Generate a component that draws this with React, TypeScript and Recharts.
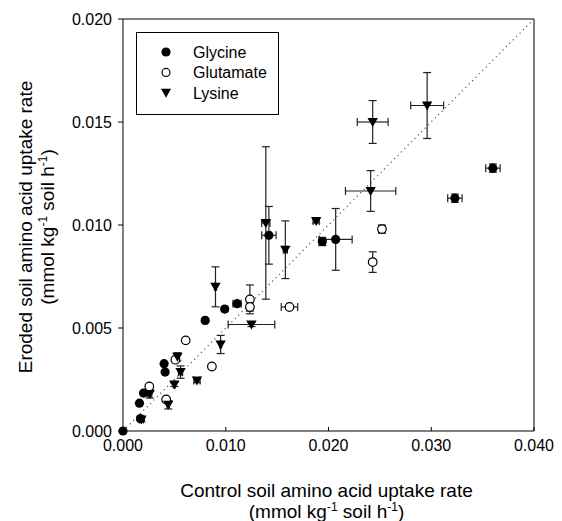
import React from 'react';
import {
  ScatterChart,
  Scatter,
  XAxis,
  YAxis,
  ErrorBar,
  ReferenceLine,
} from 'recharts';

const FONT = '"Liberation Sans", Arial, sans-serif';

// Glycine (filled circles): x, y, x error, y error
const glycineX = [0, 0.0017, 0.0016, 0.002, 0.004, 0.0041, 0.008, 0.0099, 0.0111, 0.0142, 0.0194, 0.0207, 0.0323, 0.036];
const glycineY = [0, 0.0006, 0.00135, 0.00184, 0.00327, 0.00286, 0.00537, 0.00592, 0.00618, 0.0095, 0.0092, 0.0093, 0.0113, 0.01276];
const glycineXErr = [0, 0.0001, 0, 0, 0, 0, 0.0002, 0.0002, 0.0004, 0.0007, 0.0003, 0.0016, 0.0007, 0.0007];
const glycineYErr = [0, 0.0001, 0, 0, 0, 0, 0.0001, 0.0001, 0.0001, 0.0014, 0.0002, 0.0015, 0.0002, 0.0002];

// Glutamate (open circles)
const glutamateX = [0.00256, 0.0042, 0.0051, 0.0061, 0.00865, 0.01235, 0.01235, 0.0162, 0.0243, 0.0252];
const glutamateY = [0.00216, 0.00153, 0.00346, 0.0044, 0.00313, 0.00639, 0.00602, 0.00602, 0.0082, 0.0098];
const glutamateXErr = [0, 0, 0, 0, 0, 0, 0, 0.0008, 0, 0.0003];
const glutamateYErr = [0, 0.0001, 0, 0, 0, 0.0007, 0.0002, 0, 0.0005, 0.0002];

// Lysine (filled down triangles)
const lysineX = [0.0018, 0.0026, 0.0044, 0.005, 0.0053, 0.0056, 0.0072, 0.0095, 0.009, 0.0125, 0.0139, 0.0158, 0.0188, 0.0241, 0.0243, 0.0296];
const lysineY = [0.00056, 0.0018, 0.00127, 0.00226, 0.0036, 0.00286, 0.00245, 0.0042, 0.007, 0.00517, 0.0101, 0.0088, 0.0102, 0.01165, 0.015, 0.0158];
const lysineXErr = [0.0002, 0.0002, 0.0001, 0.0001, 0.0002, 0.0002, 0.0003, 0.0001, 0.0001, 0.00227, 0.0004, 0.0002, 0.0003, 0.00245, 0.0015, 0.0016];
const lysineYErr = [0.0001, 0.0002, 0.0002, 0.0001, 0.0002, 0.0003, 0.0001, 0.00044, 0.00097, 0.0001, 0.0037, 0.0014, 0.0001, 0.00099, 0.00104, 0.0016];

const xTicks = [0, 0.01, 0.02, 0.03, 0.04];
const yTicks = [0, 0.005, 0.01, 0.015, 0.02];
const seriesNames = ['Glycine', 'Glutamate', 'Lysine'];

const build = (xs: number[], ys: number[], exs: number[], eys: number[]) =>
  xs.map((x, i) => ({ x, y: ys[i], ex: exs[i], ey: eys[i] }));

const glycine = build(glycineX, glycineY, glycineXErr, glycineYErr);
const glutamate = build(glutamateX, glutamateY, glutamateXErr, glutamateYErr);
const lysine = build(lysineX, lysineY, lysineXErr, lysineYErr);

const FilledCircle = (p: any) => <circle cx={p.cx} cy={p.cy} r={4.6} fill="#000" />;
const OpenCircle = (p: any) => (
  <circle cx={p.cx} cy={p.cy} r={4.3} fill="#fff" stroke="#000" strokeWidth={1.2} />
);
const DownTriangle = (p: any) => (
  <polygon
    points={`${p.cx - 5.2},${p.cy - 4} ${p.cx + 5.2},${p.cy - 4} ${p.cx},${p.cy + 5}`}
    fill="#000"
  />
);

const XTitle = (props: any) => {
  const vb = props.viewBox || { x: 115, y: 423, width: 411, height: 50 };
  const cx = vb.x + vb.width / 2 - 2;
  return (
    <g>
      <text x={cx} y={vb.y + 66} textAnchor="middle" fontSize={19} fill="#000" fontFamily={FONT}>
        Control soil amino acid uptake rate
      </text>
      <text x={cx} y={vb.y + 87} textAnchor="middle" fontSize={19} fill="#000" fontFamily={FONT}>
        (mmol kg<tspan dy={-7} fontSize={12}>-1</tspan>
        <tspan dy={7}> soil h</tspan>
        <tspan dy={-7} fontSize={12}>-1</tspan>
        <tspan dy={7}>)</tspan>
      </text>
    </g>
  );
};

const YTitle = (props: any) => {
  const vb = props.viewBox || { x: 55, y: 11, width: 60, height: 412 };
  const cy = vb.y + vb.height / 2 + 2;
  const x1 = 24;
  const x2 = 46;
  return (
    <g>
      <text
        x={x1}
        y={cy}
        transform={`rotate(-90, ${x1}, ${cy})`}
        textAnchor="middle"
        fontSize={19}
        fill="#000"
        fontFamily={FONT}
      >
        Eroded soil amino acid uptake rate
      </text>
      <text
        x={x2}
        y={cy}
        transform={`rotate(-90, ${x2}, ${cy})`}
        textAnchor="middle"
        fontSize={19}
        fill="#000"
        fontFamily={FONT}
      >
        (mmol kg<tspan dy={-7} fontSize={12}>-1</tspan>
        <tspan dy={7}> soil h</tspan>
        <tspan dy={-7} fontSize={12}>-1</tspan>
        <tspan dy={7}>)</tspan>
      </text>
    </g>
  );
};

const LegendBox = () => (
  <svg width={143} height={83} style={{ display: 'block' }}>
    <rect x={0.5} y={0.5} width={142} height={82} fill="#fff" stroke="#000" strokeWidth={1} />
    {seriesNames.map((name, i) => {
      const cy = 20 + i * 20.4;
      const cx = 30;
      let marker;
      if (i === 0) marker = <circle cx={cx} cy={cy} r={4.6} fill="#000" />;
      else if (i === 1)
        marker = <circle cx={cx} cy={cy} r={4} fill="#fff" stroke="#000" strokeWidth={1.2} />;
      else
        marker = (
          <polygon points={`${cx - 5},${cy - 4} ${cx + 5},${cy - 4} ${cx},${cy + 5}`} fill="#000" />
        );
      return (
        <g key={name}>
          {marker}
          <text x={57} y={cy + 6} fontSize={16} fill="#000" fontFamily={FONT}>
            {name}
          </text>
        </g>
      );
    })}
  </svg>
);

const tickStyle = { fontSize: 16, fill: '#000', fontFamily: FONT };

export default function App() {
  return (
    <div style={{ position: 'relative', width: 554, height: 513 }}>
      <ScatterChart
        width={554}
        height={513}
        margin={{ top: 11, right: 28, bottom: 40, left: 55 }}
        style={{ fontFamily: FONT }}
      >
        <XAxis
          type="number"
          dataKey="x"
          domain={[0, 0.04]}
          ticks={xTicks}
          interval={0}
          tickFormatter={(v: number) => v.toFixed(3)}
          tick={tickStyle}
          tickSize={-4}
          tickMargin={13}
          height={50}
          stroke="#000"
          axisLine={{ stroke: '#000' }}
          tickLine={{ stroke: '#000' }}
          label={{ content: (p: any) => <XTitle {...p} /> }}
        />
        <YAxis
          type="number"
          dataKey="y"
          domain={[0, 0.02]}
          ticks={yTicks}
          interval={0}
          tickFormatter={(v: number) => v.toFixed(3)}
          tick={tickStyle}
          tickSize={5}
          tickMargin={6}
          width={60}
          stroke="#000"
          axisLine={{ stroke: '#000' }}
          tickLine={{ stroke: '#000' }}
          label={{ content: (p: any) => <YTitle {...p} /> }}
        />
        <ReferenceLine y={0.02} stroke="#000" strokeWidth={1} />
        <ReferenceLine x={0.04} stroke="#000" strokeWidth={1} />
        <ReferenceLine
          segment={[
            { x: 0, y: 0 },
            { x: 0.04, y: 0.02 },
          ]}
          stroke="#555"
          strokeWidth={1.2}
          strokeDasharray="1.2 3.6"
        />
        <Scatter name="Glycine" data={glycine} shape={FilledCircle} isAnimationActive={false}>
          <ErrorBar dataKey="ex" direction="x" width={4} stroke="#222" strokeWidth={1.2} />
          <ErrorBar dataKey="ey" direction="y" width={4} stroke="#222" strokeWidth={1.2} />
        </Scatter>
        <Scatter name="Glutamate" data={glutamate} shape={OpenCircle} isAnimationActive={false}>
          <ErrorBar dataKey="ex" direction="x" width={4} stroke="#222" strokeWidth={1.2} />
          <ErrorBar dataKey="ey" direction="y" width={4} stroke="#222" strokeWidth={1.2} />
        </Scatter>
        <Scatter name="Lysine" data={lysine} shape={DownTriangle} isAnimationActive={false}>
          <ErrorBar dataKey="ex" direction="x" width={4} stroke="#222" strokeWidth={1.2} />
          <ErrorBar dataKey="ey" direction="y" width={4} stroke="#222" strokeWidth={1.2} />
        </Scatter>
      </ScatterChart>
      <div style={{ position: 'absolute', left: 128, top: 24 }}>
        <LegendBox />
      </div>
    </div>
  );
}
